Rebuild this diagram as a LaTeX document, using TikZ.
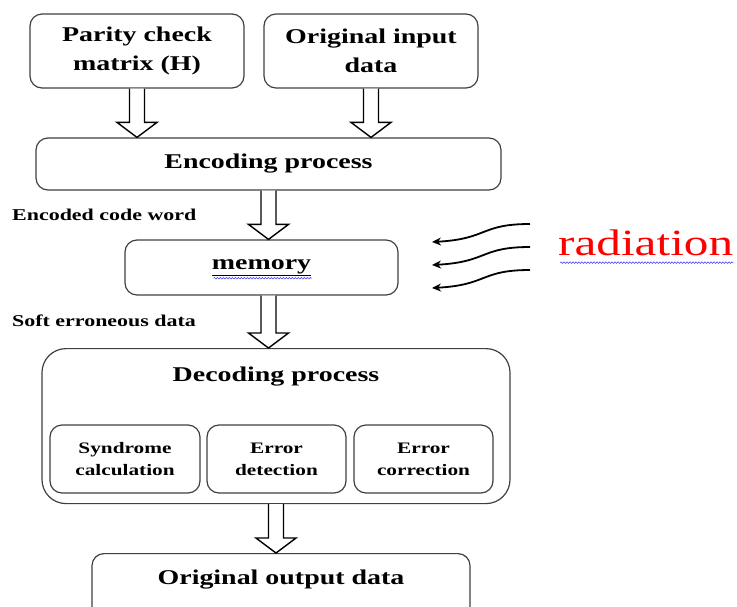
\documentclass[tikz,border=0pt]{standalone}
\usepackage{fontspec}
\setmainfont{Liberation Serif}[FakeStretch=1.33]
\usepackage{tikz}
\usetikzlibrary{positioning,calc}
\usetikzlibrary{arrows.meta}
\usetikzlibrary{decorations.pathmorphing}
\colorlet{boxline}{black!75}
\tikzstyle{hollow} = [draw=black, line width=1.4pt, fill=white, line join=miter]
\tikzstyle{ray} = [line width=1.8pt, -{Stealth[length=9pt,width=8pt]}]

% hollow block arrow from #1 down to #2
\newcommand{\blockarrow}[2]{%
	\draw[hollow] let \p1=(#1), \p2=(#2) in
	(\x1-7.5pt,\y1) -- (\x1-7.5pt,\y2+15pt) -- (\x1-20pt,\y2+15pt) -- (\x1,\y2)
	-- (\x1+20pt,\y2+15pt) -- (\x1+7.5pt,\y2+15pt) -- (\x1+7.5pt,\y1);}

\begin{document}
\begin{tikzpicture}[x=1pt, y=-1pt,
	box/.style={draw=boxline, line width=1.2pt, rounded corners=12pt, align=center, inner sep=0pt, font=\bfseries\fontsize{21}{29}\selectfont},
	subbox/.style={box, minimum width=139pt, minimum height=68pt, font=\bfseries\fontsize{16}{22}\selectfont},
	note/.style={anchor=west, inner sep=0pt, font=\bfseries\fontsize{16.5}{20}\selectfont},
	squiggle/.style={draw=blue!70, line width=0.6pt, decorate, decoration={snake, amplitude=0.8pt, segment length=3pt}}]
	\useasboundingbox (0,0) rectangle (737,606);
	\clip (0,0) rectangle (737,606);
	
	% BLOCKS
	
	\node [box, minimum width=214pt, minimum height=74pt] (parity) at (137,51) {Parity check\\matrix (H)};
	\node [box, minimum width=214pt, minimum height=74pt] (input) at (371,51) {Original input\\data};
	\node [box, minimum width=465pt, minimum height=52pt] (enc) at (268.5,164) {Encoding process};
	\node [box, minimum width=273pt, minimum height=55pt] (mem) at (261.5,267.5) {\underline{memory}};
	\node [box, rounded corners=24pt, minimum width=468pt, anchor=north, inner ysep=12pt, text height=21pt, text depth=110pt] (dec) at (276,348) {Decoding process};
	\node [subbox, minimum width=150pt] (syn) at (125,459) {Syndrome\\calculation};
	\node [subbox] (det) at (276.5,459) {Error\\detection};
	\node [subbox] (cor) at (423.5,459) {Error\\correction};
	\node [box, minimum width=378pt, anchor=north, inner ysep=10pt, text height=21pt, text depth=60pt] (out) at (281,553) {Original output data};
	
	% LABELS
	
	\node [note] (encword) at (12,215) {Encoded code word};
	\node [note] (softdata) at (12,321) {Soft erroneous data};
	\node [anchor=west, inner sep=0pt, text=red, font=\fontsize{37}{40}\selectfont] (rad) at (558,243) {radiation};
	\draw [squiggle] ($(rad.base west)+(2,7)$) -- ($(rad.base east)+(0,7)$);
	\draw [squiggle] ($(mem.base)+(-48,9)$) -- ($(mem.base)+(50,9)$);
	
	% ARROWS
	
	\blockarrow{parity.south}{parity.south |- enc.north}
	\blockarrow{input.south}{input.south |- enc.north}
	\blockarrow{enc.south}{enc.south |- mem.north}
	\blockarrow{enc.south |- mem.south}{enc.south |- dec.north}
	\blockarrow{dec.south}{dec.south |- out.north}
	
	\foreach \i/\y in {1/224, 2/247, 3/270} {
		\coordinate (rs\i) at (530,\y);
		\coordinate (re\i) at (432,\y+18);
		\draw [ray] (rs\i) .. controls (480,\y) and (488,\y+15) .. (re\i);
	}
	
\end{tikzpicture}
\end{document}
